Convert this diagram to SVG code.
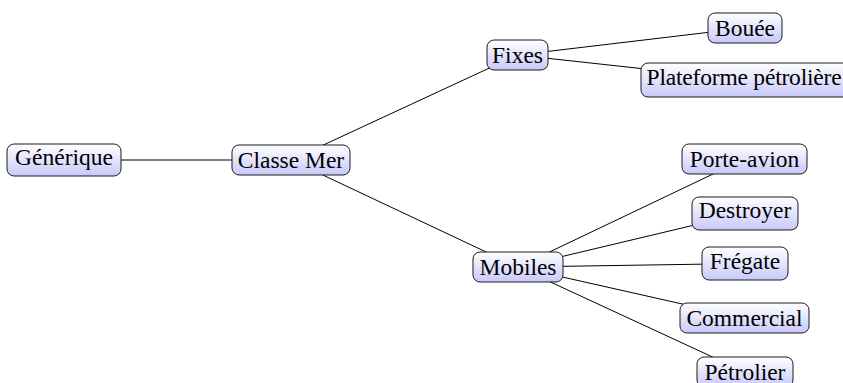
<svg xmlns="http://www.w3.org/2000/svg" width="843" height="383" viewBox="0 0 843 383">
<defs>
<linearGradient id="nodeFill" x1="0" y1="0" x2="0" y2="1">
<stop offset="0" stop-color="#ffffff"/>
<stop offset="1" stop-color="#c8c8fa"/>
</linearGradient>
<style>
.box{fill:url(#nodeFill);stroke:#1a1a1a;stroke-width:1}
.lbl{font-family:"Liberation Serif","Times New Roman",serif;font-size:23.5px;fill:#000;text-anchor:middle}
.edge{stroke:#000;stroke-width:1;fill:none}
</style>
</defs>
<rect width="843" height="383" fill="#ffffff"/>
<g id="connectors">
<line class="edge" x1="64" y1="160" x2="291" y2="160"/>
<line class="edge" x1="291" y1="160" x2="517.5" y2="55"/>
<line class="edge" x1="291" y1="160" x2="518" y2="267"/>
<line class="edge" x1="517.5" y1="55" x2="745" y2="28"/>
<line class="edge" x1="517.5" y1="55" x2="746" y2="80"/>
<line class="edge" x1="518" y1="267" x2="744.5" y2="159"/>
<line class="edge" x1="518" y1="267" x2="745" y2="213"/>
<line class="edge" x1="518" y1="267" x2="745" y2="263.5"/>
<line class="edge" x1="518" y1="267" x2="744.5" y2="318"/>
<line class="edge" x1="518" y1="267" x2="745" y2="372"/>
</g>
<g id="node-generique"><rect class="box" x="7" y="144" width="114" height="32" rx="7"/><text class="lbl" x="64" y="165">Générique</text></g>
<g id="node-classe-mer"><rect class="box" x="232" y="145" width="118" height="30" rx="7"/><text class="lbl" x="291" y="168">Classe Mer</text></g>
<g id="node-fixes"><rect class="box" x="487" y="40" width="61" height="30" rx="7"/><text class="lbl" x="517.5" y="63">Fixes</text></g>
<g id="node-mobiles"><rect class="box" x="473" y="252" width="90" height="30" rx="7"/><text class="lbl" x="518" y="275">Mobiles</text></g>
<g id="node-bouee"><rect class="box" x="708" y="13" width="74" height="30" rx="7"/><text class="lbl" x="745" y="36">Bouée</text></g>
<g id="node-plateforme"><rect class="box" x="641" y="63" width="210" height="34" rx="7"/><text class="lbl" x="744" y="85" style="letter-spacing:-0.2px">Plateforme pétrolière</text></g>
<g id="node-porte-avion"><rect class="box" x="682" y="144" width="125" height="30" rx="7"/><text class="lbl" x="744.5" y="167">Porte-avion</text></g>
<g id="node-destroyer"><rect class="box" x="692" y="197" width="106" height="33" rx="7"/><text class="lbl" x="745" y="218">Destroyer</text></g>
<g id="node-fregate"><rect class="box" x="702" y="247" width="86" height="33" rx="7"/><text class="lbl" x="745" y="268.5">Frégate</text></g>
<g id="node-commercial"><rect class="box" x="680" y="303" width="129" height="30" rx="7"/><text class="lbl" x="744.5" y="326">Commercial</text></g>
<g id="node-petrolier"><rect class="box" x="697" y="357" width="96" height="30" rx="7"/><text class="lbl" x="745" y="380">Pétrolier</text></g>
</svg>
